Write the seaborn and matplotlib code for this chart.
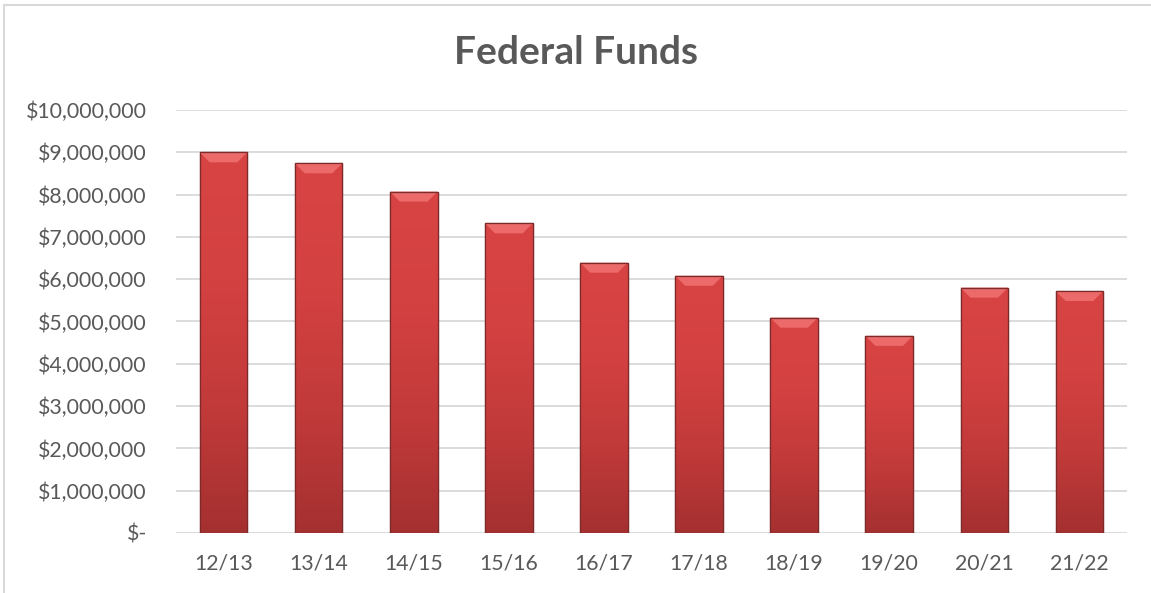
"""
Federal Funds by fiscal year - bar chart with a bevelled Excel-like look.
"""
import numpy as np
import pandas as pd
import matplotlib
matplotlib.use('Agg')
import matplotlib.pyplot as plt
from matplotlib.colors import LinearSegmentedColormap
from matplotlib.patches import Polygon
from matplotlib.lines import Line2D
import seaborn as sns

# --- data -------------------------------------------------------------------
years = ["12/13", "13/14", "14/15", "15/16", "16/17",
         "17/18", "18/19", "19/20", "20/21", "21/22"]
funds = [9000000, 8740000, 8070000, 7320000, 6390000,
         6080000, 5090000, 4660000, 5800000, 5720000]
y_ticks = [0, 1000000, 2000000, 3000000, 4000000, 5000000,
           6000000, 7000000, 8000000, 9000000, 10000000]

TEXT = '#595959'
GRID = '#d9d9d9'

sns.set_theme(style="white")
plt.rcParams['font.family'] = ['Lato', 'DejaVu Sans']

df = pd.DataFrame({'year': years, 'funds': funds})

fig = plt.figure(figsize=(11.51, 5.93), dpi=100)
ax = fig.add_axes([0.1529, 0.1012, 0.8262, 0.7133])

sns.barplot(data=df, x='year', y='funds', color='#d64242', width=0.5,
            saturation=1, ax=ax, zorder=2)

ax.set_ylim(0, 10000000)
ax.set_yticks(y_ticks)
ax.set_yticklabels(['$-' if v == 0 else f'${v:,.0f}' for v in y_ticks])
ax.yaxis.grid(True, color=GRID, linewidth=1.3, zorder=0)
ax.set_axisbelow(True)
ax.tick_params(axis='y', length=0, pad=21, labelsize=15.3, labelcolor=TEXT)
ax.tick_params(axis='x', length=0, pad=15, labelsize=15.3, labelcolor=TEXT)
ax.set_xlabel('')
ax.set_ylabel('')
for s in ax.spines.values():
    s.set_visible(False)

fig.text(0.5, 0.912, 'Federal Funds', fontsize=28, fontweight='bold',
         color=TEXT, ha='center', va='center')

# --- bevel effect on each bar -------------------------------------------------
grad = LinearSegmentedColormap.from_list(
    'bar', ['#a53030', '#c23a3a', '#d44141', '#d84444'])
fig.canvas.draw()
inv = ax.transData.inverted()
px_x = inv.transform((10, 0))[0] - inv.transform((0, 0))[0]
px_y = inv.transform((0, 10))[1] - inv.transform((0, 0))[1]

for bar in list(ax.patches):
    x0, w, h = bar.get_x(), bar.get_width(), bar.get_height()
    bar.set_edgecolor('#7d2a2a')
    bar.set_linewidth(0.9)
    img = ax.imshow(np.linspace(0, 1, 256).reshape(-1, 1), cmap=grad,
                    extent=(x0, x0 + w, 0, h), origin='lower',
                    aspect='auto', zorder=2.1)
    img.set_clip_path(bar)
    top = Polygon([(x0, h), (x0 + w, h), (x0 + w - px_x, h - px_y),
                   (x0 + px_x, h - px_y)], closed=True,
                  facecolor='#ec6a6a', edgecolor='none', zorder=2.2)
    ax.add_patch(top)
    ax.add_patch(Polygon([(x0, h), (x0 + w, h), (x0 + w, 0), (x0, 0)],
                         closed=True, facecolor='none', edgecolor='#7d2a2a',
                         linewidth=0.9, zorder=2.3))

ax.set_xlim(-0.5, len(years) - 0.5)
ax.set_ylim(0, 10000000)

# light chart-area border (left and top visible)
fig.add_artist(Line2D([0.0035, 0.0035], [0, 0.992], transform=fig.transFigure,
                      color=GRID, linewidth=1.5))
fig.add_artist(Line2D([0.0035, 1], [0.992, 0.992], transform=fig.transFigure,
                      color=GRID, linewidth=1.5))

fig.savefig('out.png', dpi=100)
